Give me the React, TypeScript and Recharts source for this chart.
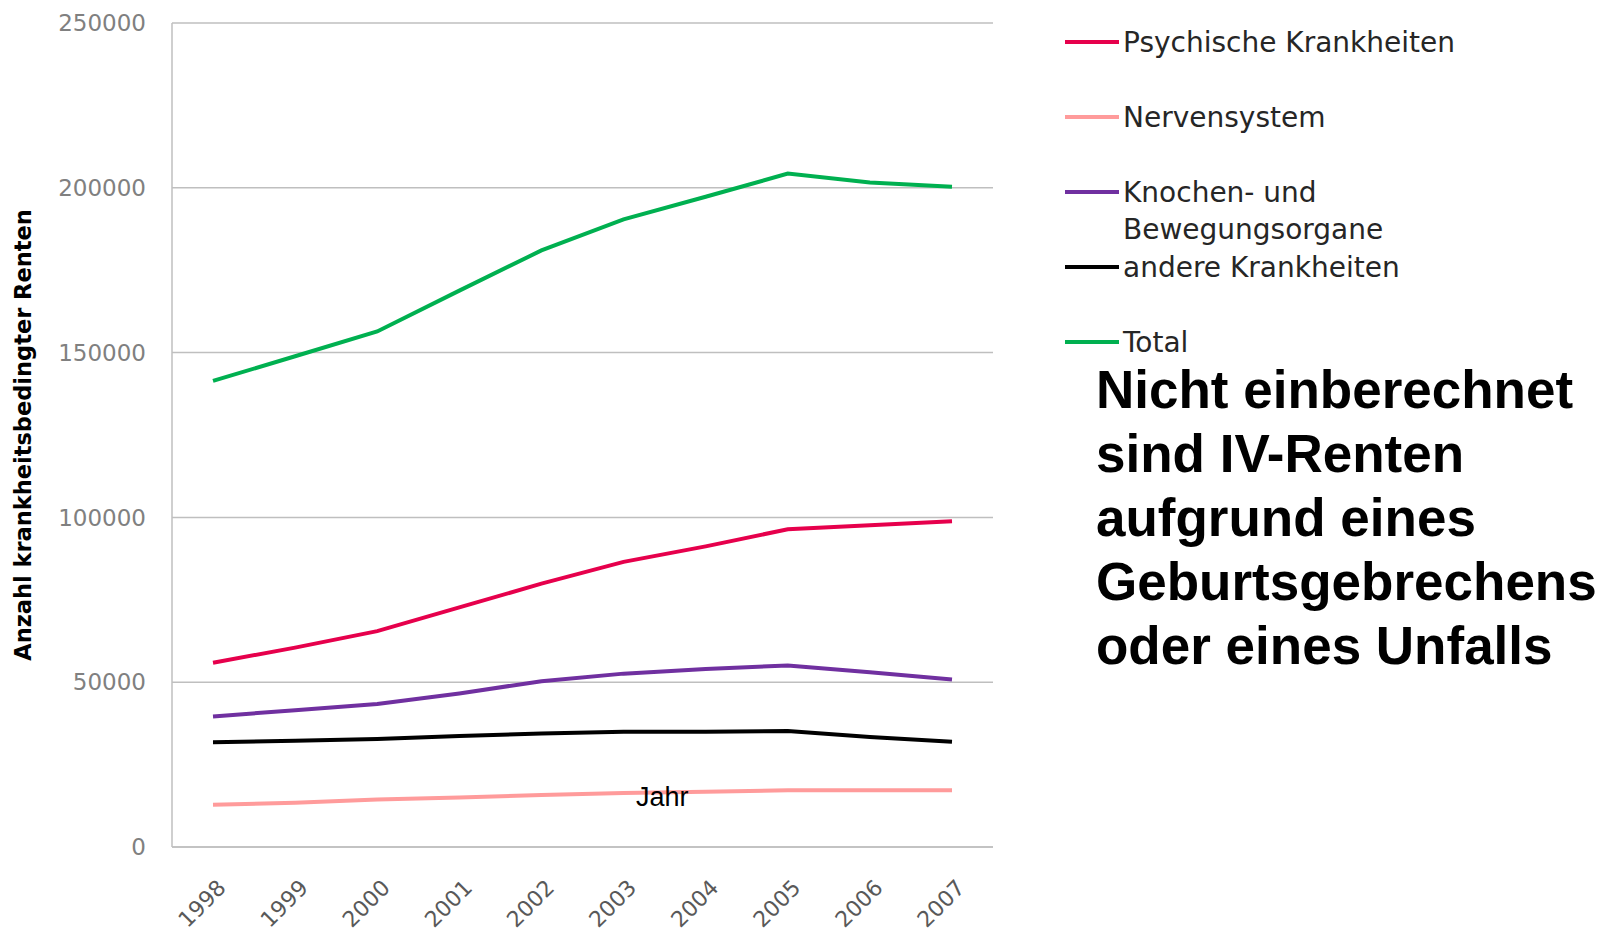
import React from 'react';
import { LineChart, Line, XAxis, YAxis, CartesianGrid } from 'recharts';

// Jahre (Kategorien)
const years = ['1998', '1999', '2000', '2001', '2002', '2003', '2004', '2005', '2006', '2007'];

// Werte pro Serie
const psychische = [55900, 60500, 65500, 72700, 79900, 86500, 91200, 96400, 97600, 98800];
const nervensystem = [12800, 13400, 14400, 15000, 15800, 16400, 16800, 17200, 17200, 17200];
const knochen = [39600, 41500, 43400, 46600, 50300, 52600, 54000, 55100, 53000, 50800];
const andere = [31800, 32200, 32800, 33700, 34400, 35000, 35000, 35200, 33400, 31900];
const total = [141400, 148900, 156400, 168800, 181000, 190400, 197300, 204300, 201600, 200300];

const yTicks = [0, 50000, 100000, 150000, 200000, 250000];

const seriesNames = ['Psychische Krankheiten', 'Nervensystem', 'Knochen- und Bewegungsorgane', 'andere Krankheiten', 'Total'];
const seriesKeys = ['psychische', 'nervensystem', 'knochen', 'andere', 'total'];
const seriesColors = ['#e6004c', '#ff9b9b', '#7030a0', '#000000', '#00b050'];
const seriesValues = [psychische, nervensystem, knochen, andere, total];

const data = years.map((year, i) => {
  const row: Record<string, string | number> = { year };
  seriesKeys.forEach((k, s) => {
    row[k] = seriesValues[s][i];
  });
  return row;
});

const tickFont = '"DejaVu Sans", sans-serif';

const YearTick = (props: any) => {
  const { x, y, payload } = props;
  return (
    <g transform={`translate(${x + 3},${y + 23})`}>
      <text
        x={0}
        y={0}
        dy="0.72em"
        textAnchor="end"
        transform="rotate(-45)"
        fill="#595959"
        fontSize={22}
        fontFamily={tickFont}
      >
        {payload.value}
      </text>
    </g>
  );
};

// legend rows (y positions of the line symbols)
const legendRows = [
  { label: ['Psychische Krankheiten'], top: 24 },
  { label: ['Nervensystem'], top: 99 },
  { label: ['Knochen- und', 'Bewegungsorgane'], top: 174 },
  { label: ['andere Krankheiten'], top: 249 },
  { label: ['Total'], top: 324 },
];

export default function App() {
  return (
    <div style={{ position: 'fixed', left: 0, top: 0, width: 1614, height: 936, background: '#fff', overflow: 'hidden' }}>
      <div style={{ position: 'absolute', left: 0, top: 0 }}>
        <LineChart width={1000} height={936} data={data} margin={{ top: 23, right: 7, left: 0, bottom: 0 }}>
          <CartesianGrid vertical={false} stroke="#bfbfbf" strokeWidth={1.5} />
          <XAxis
            dataKey="year"
            height={89}
            padding={{ left: 41, right: 41 }}
            axisLine={{ stroke: '#bfbfbf', strokeWidth: 1.5 }}
            tickLine={false}
            tick={<YearTick />}
            interval={0}
          />
          <YAxis
            width={172}
            domain={[0, 250000]}
            ticks={yTicks}
            interval={0}
            axisLine={{ stroke: '#bfbfbf', strokeWidth: 1.5 }}
            tickLine={false}
            tickMargin={20}
            tick={{ fill: '#808080', fontSize: 23, fontFamily: tickFont }}
          />
          {seriesKeys.map((k, s) => (
            <Line
              key={k}
              type="linear"
              dataKey={k}
              name={seriesNames[s]}
              stroke={seriesColors[s]}
              strokeWidth={4}
              dot={false}
              activeDot={false}
              isAnimationActive={false}
            />
          ))}
        </LineChart>
      </div>

      {/* Achsentitel */}
      <div
        style={{
          position: 'absolute',
          left: 23,
          top: 435,
          transform: 'translate(-50%, -50%) rotate(-90deg)',
          whiteSpace: 'nowrap',
          fontFamily: tickFont,
          fontWeight: 'bold',
          fontSize: 22.5,
          color: '#000',
        }}
      >
        Anzahl krankheitsbedingter Renten
      </div>

      <div
        style={{
          position: 'absolute',
          left: 636,
          top: 782,
          fontFamily: '"Liberation Sans", Arial, sans-serif',
          fontSize: 27,
          color: '#000',
        }}
      >
        Jahr
      </div>

      {/* Legende */}
      {legendRows.map((row, i) => (
        <div key={i} style={{ position: 'absolute', left: 1065, top: row.top }}>
          <div style={{ position: 'absolute', left: 0, top: 16, width: 54, height: 4, background: seriesColors[i] }} />
          <div
            style={{
              position: 'absolute',
              left: 58,
              top: 0,
              whiteSpace: 'nowrap',
              fontFamily: tickFont,
              fontSize: 28,
              lineHeight: '37px',
              color: '#262626',
            }}
          >
            {row.label.map((l, j) => (
              <div key={j}>{l}</div>
            ))}
          </div>
        </div>
      ))}

      {/* Hinweis */}
      <div
        style={{
          position: 'absolute',
          left: 1096,
          top: 358,
          fontFamily: '"Liberation Sans", Arial, sans-serif',
          fontWeight: 'bold',
          fontSize: 53,
          lineHeight: '64px',
          color: '#000',
          whiteSpace: 'nowrap',
        }}
      >
        <div>Nicht einberechnet</div>
        <div>sind IV-Renten</div>
        <div>aufgrund eines</div>
        <div>Geburtsgebrechens</div>
        <div>oder eines Unfalls</div>
      </div>
    </div>
  );
}
